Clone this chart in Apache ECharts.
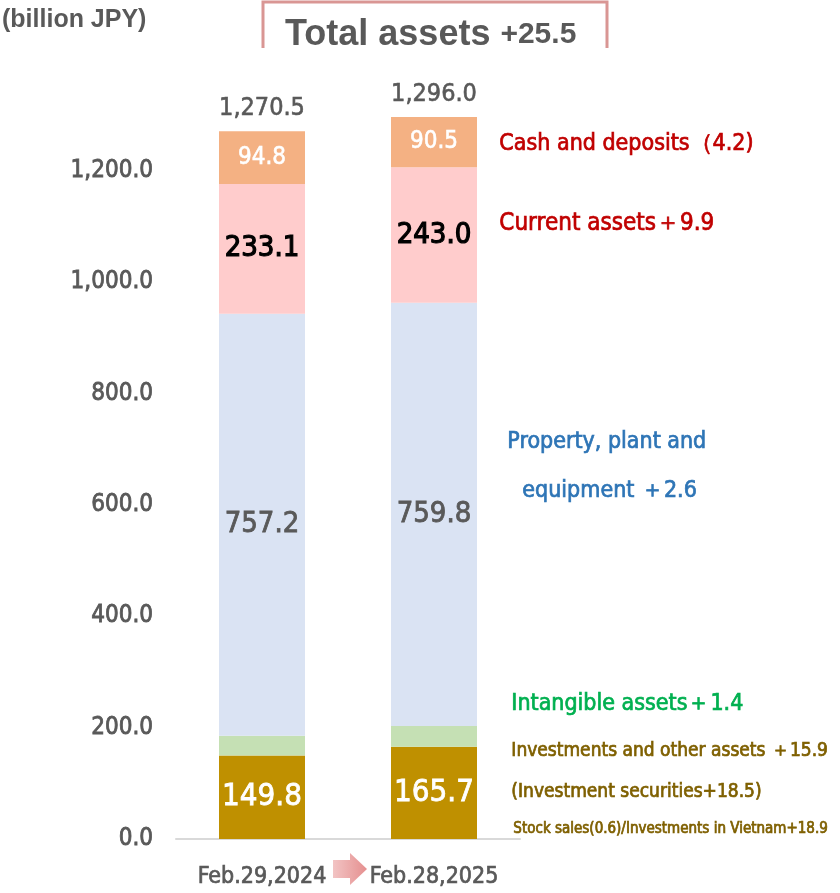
<!DOCTYPE html>
<html>
<head>
<meta charset="utf-8">
<script src="https://cdn.jsdelivr.net/npm/echarts@6/dist/echarts.min.js"></script>
<style>
  html, body { margin: 0; padding: 0; background: #fff; }
  #main { width: 840px; height: 893px; }
</style>
</head>
<body>
<div id="main"></div>
<script>
// data (billion JPY)
var categories = ["Feb.29,2024", "Feb.28,2025"];
var investments = [149.8, 165.7];
var intangible = [35.6, 37.0];
var property = [757.2, 759.8];
var currentAssets = [233.1, 243.0];
var cash = [94.8, 90.5];
var totals = [1270.5, 1296.0];
var yTicks = [0, 200, 400, 600, 800, 1000, 1200];

var NARROW = "'Liberation Sans Narrow', 'DejaVu Sans Condensed', sans-serif";
var GRAY = "#595959";

function fmt(v) {
  return v.toLocaleString("en-US", { minimumFractionDigits: 1, maximumFractionDigits: 1 });
}

var chart = echarts.init(document.getElementById("main"));

function seg(name, data, color, label) {
  return {
    name: name,
    type: "bar",
    stack: "total",
    barWidth: 86,
    data: data,
    itemStyle: { color: color },
    label: label,
    silent: true
  };
}

// slightly heavier strokes for the condensed text
function txt(x, y, text, color, size) {
  return { type: "text", left: x, top: y,
    style: { text: text, fill: color, font: size + "px " + NARROW, stroke: color, lineWidth: 0.7 } };
}

var option = {
  animation: false,
  grid: { left: 176, right: 320, top: 59, bottom: 54 },
  xAxis: {
    type: "category",
    data: categories,
    axisLine: { lineStyle: { color: "#d9d9d9", width: 2 } },
    axisTick: { show: false },
    axisLabel: { color: GRAY, fontFamily: NARROW, fontSize: 23, margin: 27, interval: 0,
      textBorderColor: GRAY, textBorderWidth: 0.7 }
  },
  yAxis: {
    type: "value",
    min: 0,
    max: 1400,
    interval: 200,
    splitLine: { show: false },
    axisLine: { show: false },
    axisTick: { show: false },
    axisLabel: {
      color: GRAY,
      fontFamily: NARROW,
      fontSize: 24,
      margin: 23,
      textBorderColor: GRAY,
      textBorderWidth: 0.8,
      formatter: function (v) { return yTicks.indexOf(v) >= 0 ? fmt(v) : ""; }
    }
  },
  series: [
    seg("Investments and other assets", investments, "#BF9000", {
      show: true, position: "inside", color: "#fff", fontFamily: NARROW, fontSize: 31,
      textBorderColor: "#fff", textBorderWidth: 0.8,
      formatter: function (p) { return fmt(p.value); }
    }),
    seg("Intangible assets", intangible, "#C5E0B4", { show: false }),
    seg("Property, plant and equipment", property, "#DAE3F3", {
      show: true, position: "inside", color: GRAY, fontFamily: NARROW, fontSize: 29,
      textBorderColor: GRAY, textBorderWidth: 0.8,
      formatter: function (p) { return fmt(p.value); }
    }),
    seg("Current assets", currentAssets, "#FFCCCC", {
      show: true, position: "inside", color: "#000", fontFamily: NARROW, fontSize: 29,
      textBorderColor: "#000", textBorderWidth: 1.2,
      formatter: function (p) { return fmt(p.value); }
    }),
    seg("Cash and deposits", cash, "#F4B183", {
      show: true, position: "inside", color: "#fff", fontFamily: NARROW, fontSize: 24,
      textBorderColor: "#fff", textBorderWidth: 0.6,
      formatter: function (p) { return fmt(p.value); }
    }),
    {
      name: "Total",
      type: "bar",
      stack: "total",
      barWidth: 86,
      data: [0, 0],
      itemStyle: { color: "transparent" },
      silent: true,
      label: {
        show: true, position: "top", distance: 10, color: GRAY, fontFamily: NARROW, fontSize: 25,
        textBorderColor: GRAY, textBorderWidth: 0.6,
        formatter: function (p) { return fmt(totals[p.dataIndex]); }
      }
    }
  ],
  graphic: [
    { type: "text", left: 2, top: 8,
      style: { text: "(billion JPY)", fill: GRAY, font: "bold 25px 'Liberation Sans', Arial, sans-serif" } },
    { type: "polyline", shape: { points: [[263, 48], [263, 2], [607, 2], [607, 48]] },
      style: { stroke: "#D99694", lineWidth: 3, fill: null } },
    { type: "text", left: 285, top: 17,
      style: { rich: {
        a: { fill: GRAY, font: "bold 36px 'Liberation Sans', Arial, sans-serif" },
        b: { fill: GRAY, font: "bold 30px 'Liberation Sans', Arial, sans-serif" }
      }, text: "{a|Total assets }{b|+25.5}" } },
    { type: "polygon",
      shape: { points: [[333, 860], [350, 860], [350, 853], [367, 869], [350, 885], [350, 878], [333, 878]] },
      style: { fill: new echarts.graphic.LinearGradient(0, 0, 1, 0, [
        { offset: 0, color: "#F2C4C4" }, { offset: 1, color: "#E58F8F" }]) } },
    txt(499, 132, "Cash and deposits（4.2)", "#C00000", 23),
    txt(499, 211, "Current assets＋9.9", "#C00000", 24),
    txt(507, 430, "Property, plant and", "#2E75B6", 23),
    txt(522, 479, "equipment ＋2.6", "#2E75B6", 23),
    txt(511, 692, "Intangible assets＋1.4", "#00B050", 23),
    txt(511, 741, "Investments and other assets ＋15.9", "#7F6000", 19),
    txt(511, 782, "(Investment securities+18.5)", "#7F6000", 19),
    txt(513, 821, "Stock sales(0.6)/Investments in Vietnam+18.9", "#7F6000", 15)
  ]
};

chart.setOption(option);
</script>
</body>
</html>
